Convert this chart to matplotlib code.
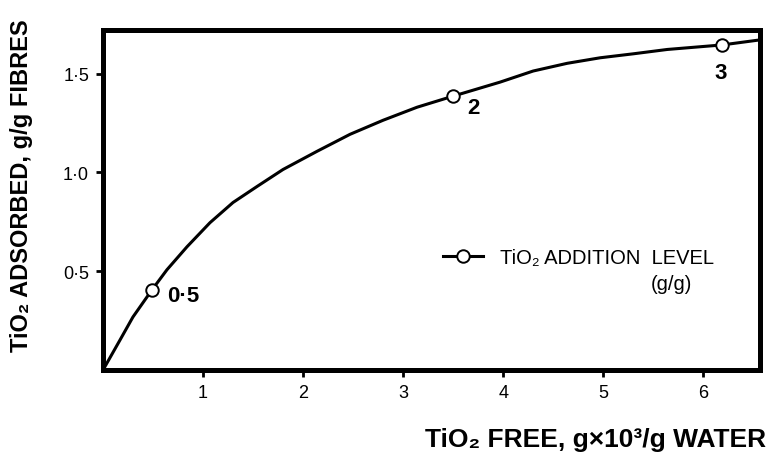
import matplotlib.pyplot as plt

plt.rcParams['font.family'] = ['Liberation Sans', 'DejaVu Sans']

# curve (x: TiO2 free, y: TiO2 adsorbed)
curve_x = [0.0, 0.17, 0.30, 0.49, 0.64, 0.84, 1.07, 1.30, 1.54, 1.80, 2.14, 2.47, 2.80,
           3.14, 3.50, 3.97, 4.30, 4.64, 4.97, 5.30, 5.64, 6.19, 6.59]
curve_y = [0.0, 0.152, 0.269, 0.406, 0.508, 0.624, 0.746, 0.848, 0.929, 1.015, 1.107, 1.193, 1.264,
           1.330, 1.386, 1.457, 1.513, 1.552, 1.580, 1.600, 1.622, 1.645, 1.672]

# addition levels marked on the curve
level_idx = [3, 14, 21]
level_labels = ['0·5', '2', '3']

x_ticks = [1, 2, 3, 4, 5, 6]
y_ticks = [0.5, 1.0, 1.5]
y_tick_labels = ['0·5', '1·0', '1·5']

fig = plt.figure(figsize=(7.68, 4.64), dpi=100)
ax = fig.add_axes([0.134, 0.2, 0.856, 0.733])

ax.plot(curve_x, curve_y, color='black', lw=2.2, marker='o', markevery=level_idx,
        ms=9, mfc='white', mec='black', mew=1.4, label='TiO\u2082 ADDITION  LEVEL')

# labels next to the marked points
offsets = [(0.15, -0.03, 'left', 'center'), (0.14, -0.06, 'left', 'center'), (-0.02, -0.14, 'center', 'center')]
for i, lab, (dx, dy, ha, va) in zip(level_idx, level_labels, offsets):
    ax.text(curve_x[i] + dx, curve_y[i] + dy, lab, fontsize=16, fontweight='bold', ha=ha, va=va)

ax.set_xlim(0, 6.57)
ax.set_ylim(0, 1.72)
ax.set_xticks(x_ticks)
ax.set_xticklabels([str(t) for t in x_ticks])
ax.set_yticks(y_ticks)
ax.set_yticklabels(y_tick_labels)
ax.tick_params(direction='out', length=5, width=2, labelsize=13, pad=5)
for s in ax.spines.values():
    s.set_linewidth(3.6)

leg = ax.legend(loc='center left', bbox_to_anchor=(0.49, 0.33), frameon=False,
                fontsize=14.5, handlelength=2.0, handletextpad=0.8)
ax.text(0.865, 0.255, '(g/g)', transform=ax.transAxes, fontsize=14.5, ha='center', va='center')

fig.text(0.997, 0.052, 'TiO\u2082 FREE, g\u00d710\u00b3/g WATER', fontsize=19, fontweight='bold',
         ha='right', va='center')
fig.text(0.028, 0.60, 'TiO\u2082 ADSORBED, g/g FIBRES', fontsize=17, fontweight='bold',
         rotation=90, ha='center', va='center')

fig.savefig('out.png', dpi=100)
